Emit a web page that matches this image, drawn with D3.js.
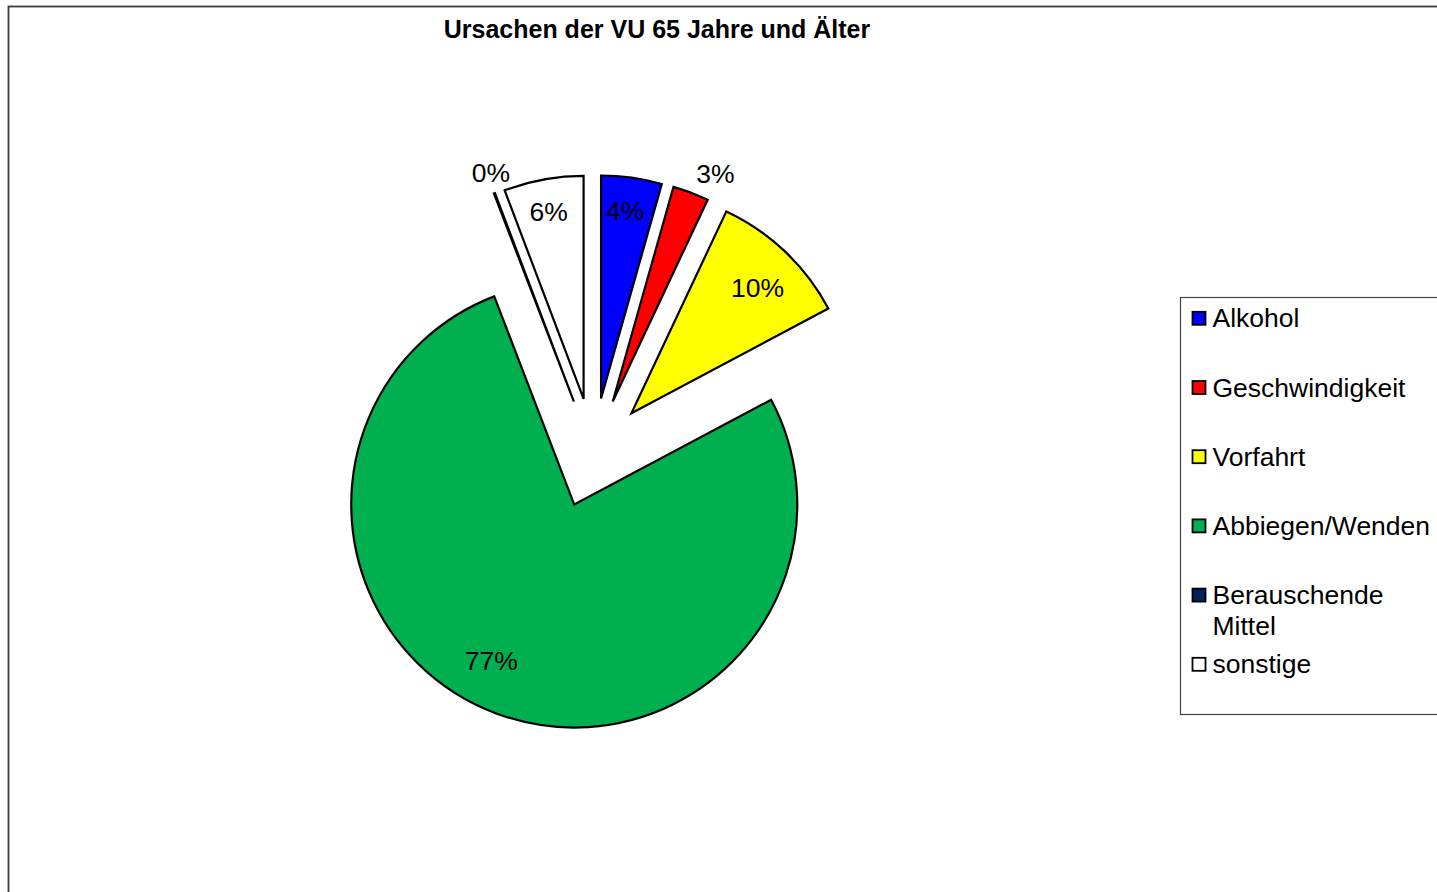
<!DOCTYPE html>
<html>
<head>
<meta charset="utf-8">
<script src="https://cdn.jsdelivr.net/npm/d3@7/dist/d3.min.js"></script>
<style>
  html, body { margin: 0; padding: 0; background: #fff; }
  svg { display: block; font-family: "Liberation Sans", Arial, sans-serif; }
</style>
</head>
<body>
<svg id="chart" width="1437" height="892"></svg>
<script>
// ---- data ----
const categories = ["Alkohol", "Geschwindigkeit", "Vorfahrt", "Abbiegen/Wenden", "Berauschende Mittel", "sonstige"];
const legendLines = [["Alkohol"], ["Geschwindigkeit"], ["Vorfahrt"], ["Abbiegen/Wenden"], ["Berauschende", "Mittel"], ["sonstige"]];
const values = [4.39, 2.61, 10.22, 76.94, 0.08, 5.76];
const colors = ["#0000FF", "#FF0000", "#FFFF00", "#00B050", "#002060", "#FFFFFF"];
const title = "Ursachen der VU 65 Jahre und Älter";

// ---- layout / style ----
const W = 1437, H = 892;
const cx = 593.5, cy = 453, R = 223, explode = 55;
// label placement: radius factor and angle nudge (degrees) per slice
const labelK = [0.852, 1.123, 0.80, 0.794, 1.094, 0.857];
const labelDa = [-0.6, 3.7, 1.4, 7.5, 1.0, -0.15];

const svg = d3.select("#chart");

// outer chart border
svg.append("rect")
  .attr("x", 8.5).attr("y", 6.5).attr("width", 1600).attr("height", 1200)
  .attr("fill", "#fff").attr("stroke", "#3a3a3a").attr("stroke-width", 1.8);

// title
svg.append("text")
  .attr("x", 657).attr("y", 38)
  .attr("text-anchor", "middle")
  .attr("font-weight", "bold").attr("font-size", 25)
  .text(title);

const total = d3.sum(values);
const pie = d3.pie().sort(null).startAngle(0).endAngle(2 * Math.PI).value(d => d);
const arcs = pie(values);
const arc = d3.arc().innerRadius(0).outerRadius(R);

const g = svg.append("g").attr("transform", `translate(${cx},${cy})`);

function offsetOf(a) {
  const mid = (a.startAngle + a.endAngle) / 2;
  return [Math.sin(mid) * explode, -Math.cos(mid) * explode];
}

g.selectAll("path.slice")
  .data(arcs)
  .join("path")
  .attr("class", "slice")
  .attr("transform", d => { const o = offsetOf(d); return `translate(${o[0]},${o[1]})`; })
  .attr("d", arc)
  .attr("fill", (d, i) => colors[i])
  .attr("stroke", "#000")
  .attr("stroke-width", 2.2)
  .attr("stroke-linejoin", "miter");

g.selectAll("text.lbl")
  .data(arcs)
  .join("text")
  .attr("class", "lbl")
  .attr("text-anchor", "middle")
  .attr("font-size", 26.5)
  .attr("x", (d, i) => {
    const o = offsetOf(d);
    const a = (d.startAngle + d.endAngle) / 2 + labelDa[i] * Math.PI / 180;
    return o[0] + Math.sin(a) * R * labelK[i];
  })
  .attr("y", (d, i) => {
    const o = offsetOf(d);
    const a = (d.startAngle + d.endAngle) / 2 + labelDa[i] * Math.PI / 180;
    return o[1] - Math.cos(a) * R * labelK[i] + 9.5;
  })
  .text(d => Math.round(d.value / total * 100) + "%");

// legend
const lg = svg.append("g");
lg.append("rect")
  .attr("x", 1180.5).attr("y", 297.5).attr("width", 300).attr("height", 417)
  .attr("fill", "#fff").attr("stroke", "#444").attr("stroke-width", 1.2);

const rowY = d3.scaleLinear().domain([0, 5]).range([327.3, 673.3]);
const items = lg.selectAll("g.item").data(categories).join("g").attr("class", "item");
items.append("rect")
  .attr("x", 1192.5).attr("y", (d, i) => rowY(i) - 15.5)
  .attr("width", 13).attr("height", 13)
  .attr("fill", (d, i) => colors[i])
  .attr("stroke", "#000").attr("stroke-width", 1.8);
items.append("text")
  .attr("x", 1212.5).attr("y", (d, i) => rowY(i))
  .attr("font-size", 26.5)
  .each(function (d, i) {
    const t = d3.select(this);
    legendLines[i].forEach((line, j) => {
      t.append("tspan").attr("x", 1212.5).attr("y", rowY(i) + j * 30.5).text(line);
    });
  });
</script>
</body>
</html>
